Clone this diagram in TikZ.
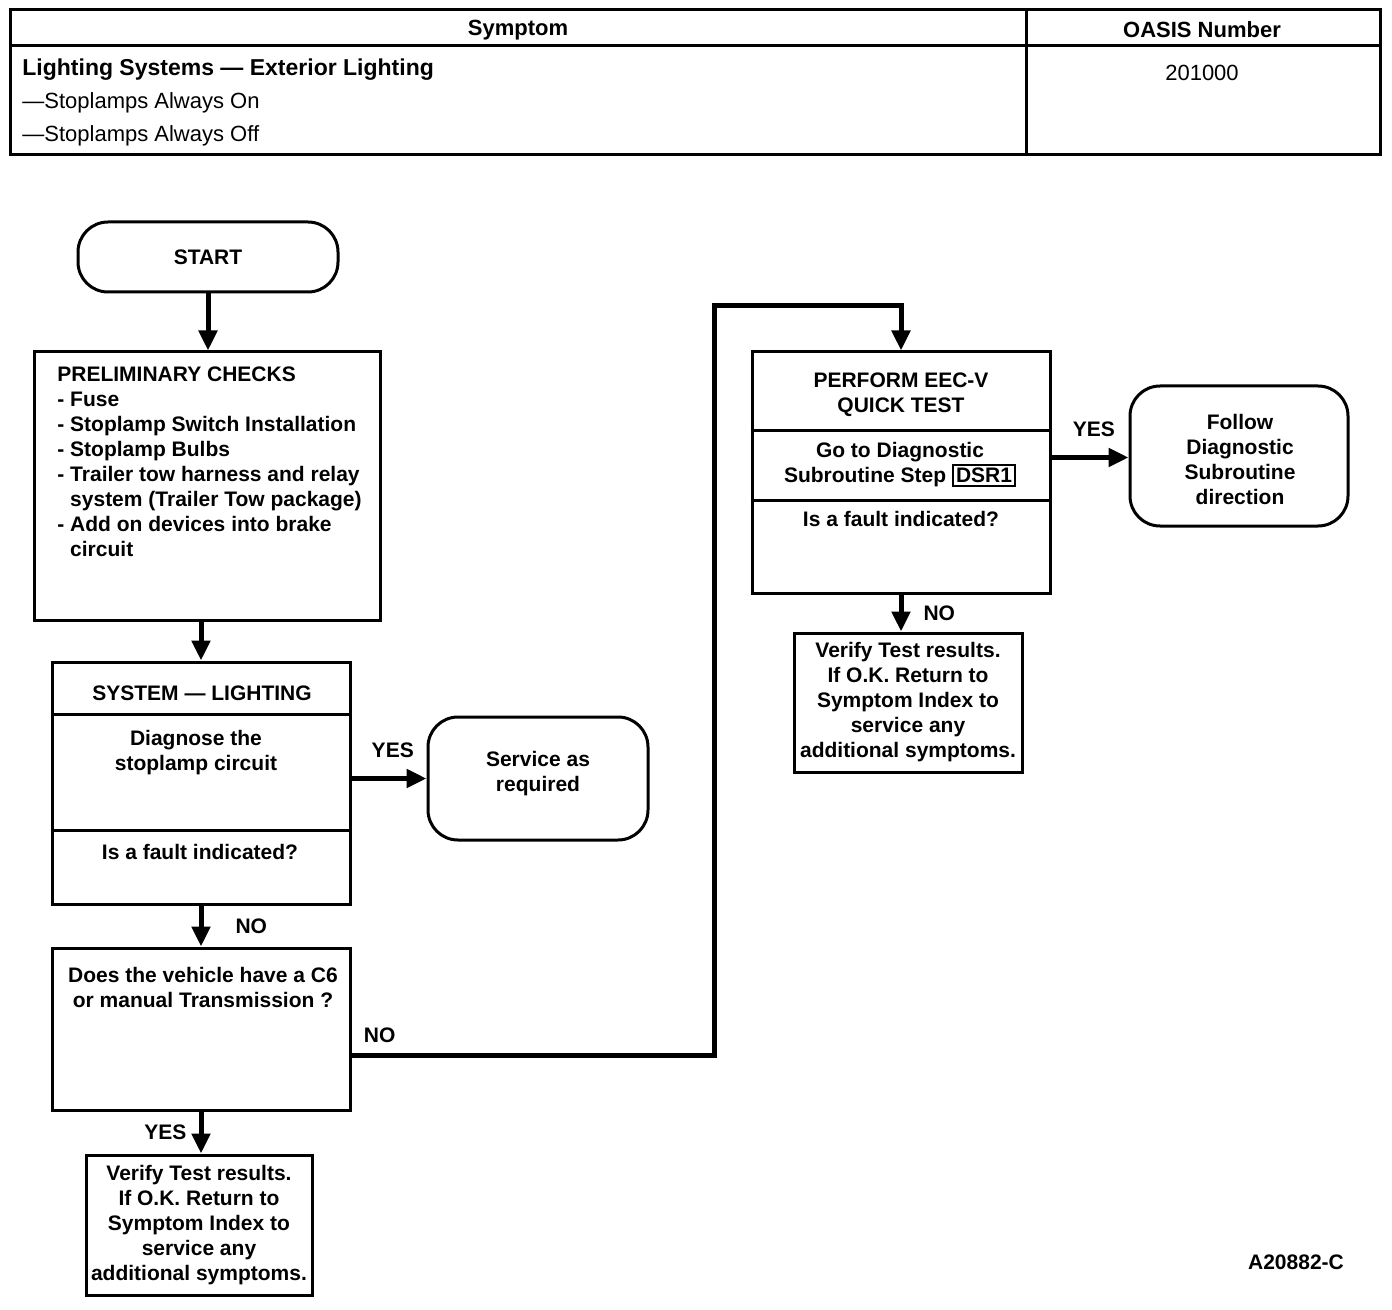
\documentclass[tikz,border=0pt]{standalone}
\usepackage{fontspec}
\setmainfont{Liberation Sans}
\usetikzlibrary{arrows.meta}
\usetikzlibrary{positioning}
\newcommand{\dsr}[1]{{\setlength{\fboxsep}{1pt}\setlength{\fboxrule}{1pt}\fbox{#1}}}
\tikzset{box/.style={
  draw,
  line width=1.5pt,
  inner sep=0pt
}}
\tikzset{term/.style={
  box,
  rounded corners=15pt
}}
\tikzset{txt/.style={
  align=center,
  inner sep=0pt,
  font=\fontsize{10.5}{12.5}\selectfont\bfseries
}}
\tikzset{flow/.style={
  line width=2.5pt,
  -{Triangle[length=10pt,width=9pt]}
}}

\begin{document}
\begin{tikzpicture}[x=0.5pt,y=-0.5pt]
    \useasboundingbox (0,0) rectangle (1392,1310);
    % Table
    \draw[line width=1.5pt]
      (10,10) rectangle (1380,155)
      (10,46) -- (1380,46)
      (1026,10) -- (1026,155);
    \node[txt,font=\fontsize{11}{13}\selectfont\bfseries] (symhead) at (518,30) {Symptom};
    \node[txt,font=\fontsize{11}{13}\selectfont\bfseries] (oasishead) at (1202,30) {OASIS Number};
    \node[txt,anchor=west,font=\fontsize{11.5}{13}\selectfont\bfseries] (sym1) at (22,70) {Lighting Systems --- Exterior Lighting};
    \node[txt,anchor=west,font=\fontsize{11}{13}\selectfont] (sym2) at (22,103) {---Stoplamps Always On};
    \node[txt,anchor=west,font=\fontsize{11}{13}\selectfont] (sym3) at (22,136) {---Stoplamps Always Off};
    \node[txt,font=\fontsize{11}{13}\selectfont] (oasis) at (1202,73) {201000};
    % Left column
    \node[term,minimum width=130pt,minimum height=35pt] (start) at (208,257) {};
    \node[txt] at (start) {START};
    \node[box,minimum width=173pt,minimum height=134pt] (pre) at (207,486) {};
    \node[txt,align=left,anchor=north west] (pretxt) at (57,366)
      {PRELIMINARY CHECKS\\
       - Fuse\\
       - Stoplamp Switch Installation\\
       - Stoplamp Bulbs\\
       - Trailer tow harness and relay\\
       \phantom{- }system (Trailer Tow package)\\
       - Add on devices into brake\\
       \phantom{- }circuit};
    \node[box,minimum width=149pt,minimum height=121pt] (sys) at (201,783) {};
    \draw[line width=1.5pt]
      ([yshift=-27pt]sys.north west) -- ([yshift=-27pt]sys.north east)
      ([yshift=-85pt]sys.north west) -- ([yshift=-85pt]sys.north east);
    \node[txt] at (202,693) {SYSTEM --- LIGHTING};
    \node[txt] at (196,753) {Diagnose the\\stoplamp circuit};
    \node[txt] at (200,852) {Is a fault indicated?};
    \node[term,minimum width=110pt,minimum height=61.5pt] (service) at (538,778.5) {};
    \node[txt] at (538,774) {Service as\\required};
    \node[box,minimum width=149pt,minimum height=81pt] (trans) at (201,1029) {};
    \node[txt] at (203,987) {Does the vehicle have a C6\\or manual Transmission ?};
    \node[box,minimum width=113pt,minimum height=70pt] (verl) at (199,1225) {};
    \node[txt] at (verl) {Verify Test results.\\If O.K. Return to\\Symptom Index to\\service any\\additional symptoms.};
    % Right column
    \node[box,minimum width=149pt,minimum height=120.5pt] (eec) at (901,472.5) {};
    \draw[line width=1.5pt]
      ([yshift=-40pt]eec.north west) -- ([yshift=-40pt]eec.north east)
      ([yshift=-75pt]eec.north west) -- ([yshift=-75pt]eec.north east);
    \node[txt] at (901,395) {PERFORM EEC-V\\QUICK TEST};
    \node[txt] at (900,465) {Go to Diagnostic\\Subroutine Step \dsr{DSR1}};
    \node[txt] at (901,519) {Is a fault indicated?};
    \node[term,minimum width=109pt,minimum height=70pt] (follow) at (1239,456) {};
    \node[txt] at (1240,459) {Follow\\Diagnostic\\Subroutine\\direction};
    \node[box,minimum width=114pt,minimum height=69.5pt] (verr) at (908,702.5) {};
    \node[txt] at (verr) {Verify Test results.\\If O.K. Return to\\Symptom Index to\\service any\\additional symptoms.};
    \node[txt] (fig) at (1296,1262) {A20882-C};
    % Connectors
    \coordinate (bend) at (714,306);
    \draw[flow] (start) -- (start |- pre.north);
    \draw[flow] (sys.north |- pre.south) -- (sys.north);
    \draw[flow] (sys.east |- service.west) -- (service.west)
      node[txt,pos=0.55,above=9pt] {YES};
    \draw[flow] (sys.south) -- (trans.north)
      node[txt,midway,right=16pt] {NO};
    \draw[flow] (trans.south) -- (trans.south |- verl.north)
      node[txt,midway,left=6pt] {YES};
    \draw[flow] ([yshift=-13pt]trans.east) -| (bend) -| (eec.north);
    \node[txt,above right=6pt and 6pt] at ([yshift=-13pt]trans.east) {NO};
    \draw[flow] ([yshift=7.5pt]eec.east) -- ([yshift=7.5pt]eec.east -| follow.west)
      node[txt,pos=0.55,above=9pt] {YES};
    \draw[flow] (eec.south) -- (eec.south |- verr.north)
      node[txt,midway,right=10pt] {NO};
  \end{tikzpicture}
\end{document}
